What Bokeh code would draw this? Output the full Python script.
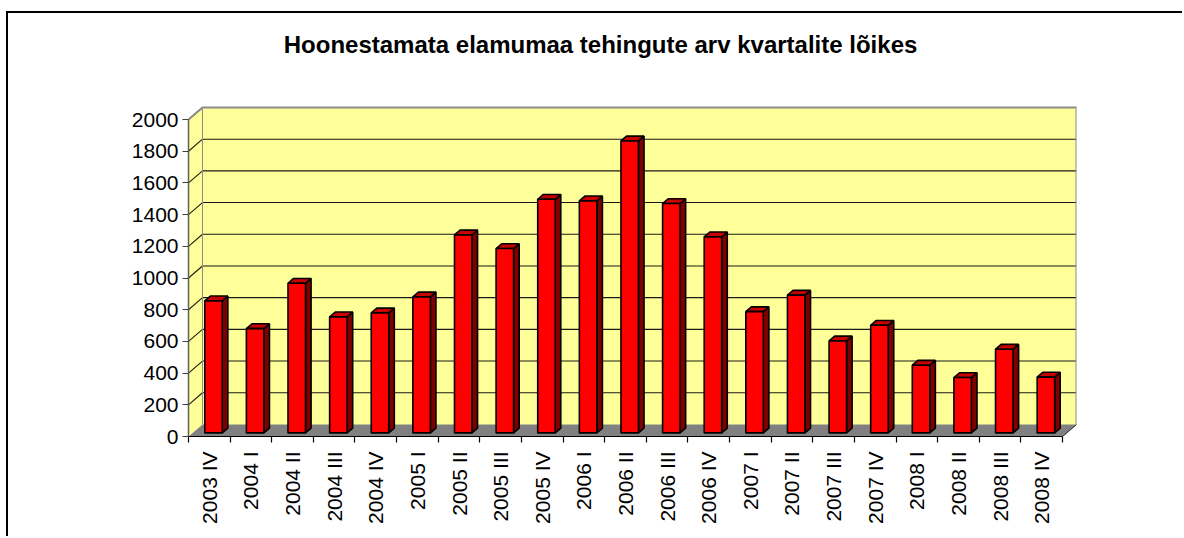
from bokeh.plotting import figure
from bokeh.models import Range1d, FixedTicker, Label
from bokeh.embed import file_html
from bokeh.resources import INLINE

# ---- data ----
quarters = ["2003 IV", "2004 I", "2004 II", "2004 III", "2004 IV",
            "2005 I", "2005 II", "2005 III", "2005 IV",
            "2006 I", "2006 II", "2006 III", "2006 IV",
            "2007 I", "2007 II", "2007 III", "2007 IV",
            "2008 I", "2008 II", "2008 III", "2008 IV"]
deals = [833, 658, 944, 732, 757, 858, 1249, 1163, 1474, 1464, 1842,
         1447, 1237, 765, 869, 580, 679, 427, 349, 528, 352]
y_ticks = [0, 200, 400, 600, 800, 1000, 1200, 1400, 1600, 1800, 2000]
title_text = "Hoonestamata elamumaa tehingute arv kvartalite lõikes"

# ---- 3D styling constants (depth offset in data units) ----
n = len(quarters)
DX = 0.336      # depth offset along x (category units)
DY = 76.0       # depth offset along y (value units)
F1, F2 = 0.30, 0.70   # bar front / back depth fractions
W = 0.42        # bar width
YMAX = y_ticks[-1]
Y_TOP = 2669    # frame top (room for the title inside the frame)

p = figure(width=1176, height=525, output_backend="svg", toolbar_location=None,
           x_range=Range1d(-0.5, n - 0.5 + DX), y_range=Range1d(0, Y_TOP),
           min_border_left=180, min_border_right=108, min_border_top=0,
           min_border_bottom=102)
p.title.visible = False
p.styles = {"border-top": "2px solid black", "border-left": "2px solid black",
            "margin-top": "11px", "margin-left": "6px"}
p.outline_line_color = None
p.xgrid.visible = False
p.ygrid.visible = False
p.background_fill_color = "white"
p.border_fill_color = "white"

x0, x1 = -0.5, n - 0.5
wall_yellow = "#FFFF99"
# floor
p.patch([x0, x1, x1 + DX, x0 + DX], [0, 0, DY, DY], fill_color="#808080",
        line_color="#808080", line_width=1)
# left wall
p.patch([x0, x0 + DX, x0 + DX, x0], [0, DY, YMAX + DY, YMAX],
        fill_color=wall_yellow, line_color=None)
# back wall
p.patch([x0 + DX, x1 + DX, x1 + DX, x0 + DX], [DY, DY, YMAX + DY, YMAX + DY],
        fill_color=wall_yellow, line_color=None)
# gridlines on back wall + left wall diagonals
gt = y_ticks[1:]
p.segment(x0=[x0 + DX] * len(gt), y0=[v + DY for v in gt],
          x1=[x1 + DX] * len(gt), y1=[v + DY for v in gt],
          line_color="#1a1a1a", line_width=1.1)
p.segment(x0=[x0] * len(gt), y0=gt, x1=[x0 + DX] * len(gt),
          y1=[v + DY for v in gt], line_color="#1a1a1a", line_width=1.1)
# wall borders (gray)
p.line([x0, x0 + DX, x1 + DX, x1 + DX], [YMAX, YMAX + DY, YMAX + DY, DY],
       line_color="#8c8c8c", line_width=2)
p.line([x0 + DX, x0 + DX], [DY, YMAX + DY], line_color="#8c8c8c", line_width=1)
p.line([x1, x1 + DX], [0, DY], line_color="#333333", line_width=1)

# bars
fx, fy, sx, sy, tx, ty = [], [], [], [], [], []
dd, ddy = (F2 - F1) * DX, (F2 - F1) * DY
for i, v in enumerate(deals):
    xl = i - W / 2 + F1 * DX
    xr = i + W / 2 + F1 * DX
    b = F1 * DY
    t = v + F1 * DY
    fx.append([xl, xr, xr, xl]); fy.append([b, b, t, t])
    sx.append([xr, xr + dd, xr + dd, xr]); sy.append([b, b + ddy, t + ddy, t])
    tx.append([xl, xr, xr + dd, xl + dd]); ty.append([t, t, t + ddy, t + ddy])
p.patches(sx, sy, fill_color="#800000", line_color="black", line_width=1.6)
p.patches(tx, ty, fill_color="#C80000", line_color="black", line_width=1.6)
p.patches(fx, fy, fill_color="#FF0000", line_color="black", line_width=1.6)

# title (inside the frame area, above the walls)
p.add_layout(Label(x=9.4, y=2473, text=title_text, text_align="center",
                   text_baseline="middle", text_font="Liberation Sans",
                   text_font_style="bold", text_font_size="24px",
                   text_color="black"))

# axes
p.xaxis.ticker = FixedTicker(ticks=list(range(n)),
                             minor_ticks=[k - 0.5 for k in range(n + 1)])
p.xaxis.major_label_overrides = {i: q for i, q in enumerate(quarters)}
p.xaxis.major_label_orientation = 1.5707963
p.xaxis.bounds = (x0, x1)
p.xaxis.axis_line_color = "black"
p.xaxis.axis_line_width = 1.2
p.xaxis.major_tick_out = 0
p.xaxis.major_tick_in = 0
p.xaxis.minor_tick_out = 6
p.xaxis.minor_tick_in = 0
p.xaxis.minor_tick_line_color = "black"
p.xaxis.minor_tick_line_width = 1.2
p.xaxis.major_label_standoff = 9
p.xaxis.major_label_text_font = "Liberation Sans"
p.xaxis.major_label_text_font_size = "21px"
p.xaxis.major_label_text_color = "black"

p.yaxis.ticker = FixedTicker(ticks=y_ticks)
p.yaxis.bounds = (0, YMAX)
p.yaxis.axis_line_color = "#606060"
p.yaxis.axis_line_width = 1.5
p.yaxis.major_tick_out = 6
p.yaxis.major_tick_in = 0
p.yaxis.major_tick_line_color = "#404040"
p.yaxis.major_tick_line_width = 1.2
p.yaxis.minor_tick_line_color = None
p.yaxis.major_label_standoff = 4
p.yaxis.major_label_text_font = "Liberation Sans"
p.yaxis.major_label_text_font_size = "21px"
p.yaxis.major_label_text_color = "black"

open("out.html", "w").write(file_html(p, INLINE))
